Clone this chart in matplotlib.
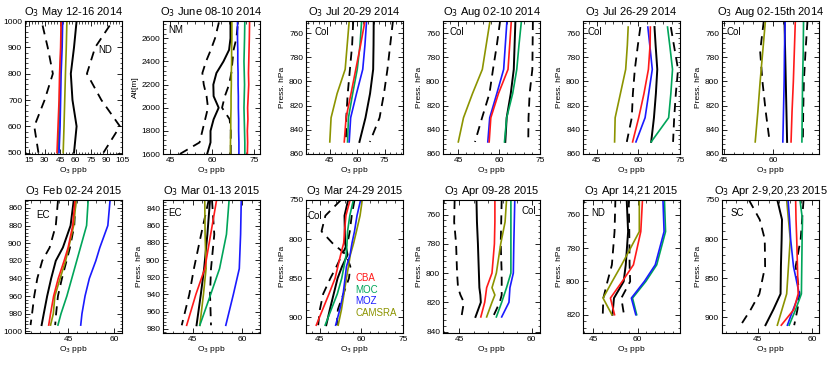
import matplotlib
matplotlib.use('Agg')
import matplotlib.pyplot as plt
from matplotlib.ticker import MultipleLocator, AutoMinorLocator

plt.rcParams['font.family'] = ['Liberation Sans', 'DejaVu Sans']

# colours of the model runs
C_CBA = '#ff1a1a'
C_MOC = '#00a55a'
C_MOZ = '#1a1aff'
C_CAMS = '#8c9400'

# ---- panel 1: May 12-16 2014 (ND), altitude
p1_lev = [500, 600, 700, 800, 900, 1000]
p1_obs = [58.5, 61, 57, 55.4, 58.5, 61]
p1_lo = [24, 20, 30, 38, 33, 27]
p1_hi = [87, 103, 85, 71, 79, 96]
p1_cba = [42, 43, 44, 44.5, 45.5, 46]
p1_moc = [43, 44, 44.5, 45, 46, 46.5]
p1_moz = [44, 45, 45.5, 46, 47, 47.5]
p1_cams = [48, 48.8, 49.5, 50.2, 51, 51.6]

# ---- panel 2: June 08-10 2014 (NM), altitude
p2_lev = [1600, 1700, 1800, 1900, 2000, 2100, 2200, 2300, 2400, 2500, 2600, 2750]
p2_obs = [58.2, 59.4, 59.4, 60.5, 62.3, 60.5, 60.4, 61.5, 64, 66, 66.5, 66.5]
p2_lo = [48.5, 55.5, 56.5, 57.5, 58.5, 58, 57, 56.5, 57.8, 59.5, 61, 62.5]
p2_hi = [66.6, 66.6, 66.6, 66.2, 63.5, 64.5, 66, 66.8, 67.2, 67.6, 68.6, 69.2]
p2_cba = [72.5, 72.6, 72.5, 72.7, 72.6, 72.8, 73, 72.9, 73, 73.1, 73.2, 73.3]
p2_moc = [71.6, 71.6, 71.5, 71.4, 71.3, 71.4, 71.5, 71.4, 71.3, 71.4, 71.5, 71.6]
p2_moz = [69.5, 69.5, 69.4, 69.4, 69.3, 69.3, 69.2, 69.2, 69.1, 69.1, 69, 69]
p2_cams = [66.5, 66.5, 66.6, 66.6, 66.7, 66.7, 66.8, 66.8, 66.9, 66.9, 67.0, 67.0]

# ---- panel 3: Jul 20-29 2014 (Col)
p3_lev = [750, 770, 790, 810, 830, 850]
p3_obs = [69, 68.9, 68.7, 67, 64.5, 61.2]
p3_lo = [57.8, 57.2, 56, 54.8, 54, 53.8]
p3_hi = [79.5, 78, 76.5, 74.6, 72.2, 66.9]
p3_cba = [64.2, 61.8, 59.2, 56.6, 53.9, 52.9]
p3_moc = [62.4, 61.5, 60, 57.5, 55.2, 54.7]
p3_moz = [65.1, 64.2, 63.0, 59.6, 56.4, 55.6]
p3_cams = [55.6, 54.5, 53.4, 49, 45.7, 45]

# ---- panel 4: Aug 02-10 2014 (Col)
p4_lev = [750, 770, 790, 810, 830, 850]
p4_obs = [66, 65.7, 65.4, 64.3, 62.8, 62.3]
p4_lo = [60.4, 59.2, 57.8, 56.5, 53.8, 51.2]
p4_hi = [72.4, 72.3, 72.2, 71.2, 70.8, 70.7]
p4_cba = [64.5, 63.9, 63.3, 59.8, 57.0, 56.4]
p4_moc = [68.2, 67.3, 66.5, 65.0, 62.8, 62.0]
p4_moz = [62.9, 62.3, 61.7, 59.2, 56.6, 55.9]
p4_cams = [56.7, 55.3, 53.9, 50.3, 47.0, 45.1]

# ---- panel 5: Jul 26-29 2014 (Col)
p5_lev = [755, 770, 790, 810, 830, 850]
p5_obs = [65.8, 66.2, 66.8, 66.3, 65.6, 64.6]
p5_lo = [60.7, 59.8, 58.7, 58.0, 57.6, 55.8]
p5_hi = [71.7, 72.8, 74.3, 73.5, 72.9, 72.5]
p5_cba = [64.3, 64.2, 63.6, 62.0, 60.1, 57.9]
p5_moc = [70.5, 71.3, 72.3, 71.7, 70.9, 64.6]
p5_moz = [63.4, 64.1, 65.0, 63.7, 62.4, 59.1]
p5_cams = [56.3, 56.0, 55.4, 53.5, 51.6, 51.4]

# ---- panel 6: Aug 02-15th 2014 (Col)
p6_lev = [750, 775, 800, 825, 850]
p6_obs = [63.5, 63.7, 63.9, 64.1, 64.3]
p6_lo = [57.2, 56.1, 56.8, 57.8, 59.0]
p6_hi = [70.5, 69.9, 69.4, 69.2, 69.1]
p6_cba = [66.8, 66.5, 66.2, 65.8, 65.5]
p6_moc = [69.3, 69.2, 69.0, 68.9, 68.8]
p6_moz = [63.7, 63.5, 63.4, 63.2, 63.0]
p6_cams = [57.7, 56.9, 56.1, 55.4, 54.6]

# ---- panel 7: Feb 02-24 2015 (EC)
p7_lev = [852, 880, 905, 920, 940, 960, 980, 993]
p7_obs = [46.8, 45.8, 43.3, 41.0, 39.5, 38.2, 37.1, 36.4]
p7_lo = [41.7, 41.0, 39.0, 36.6, 35.0, 34.0, 33.3, 32.8]
p7_hi = [47.4, 47.0, 45.6, 44.5, 43.0, 41.7, 41.1, 40.8]
p7_cba = [47.2, 46.5, 45.0, 43.7, 41.8, 40.3, 39.3, 38.7]
p7_moc = [51.5, 51.0, 49.0, 47.8, 46.2, 44.6, 42.7, 41.7]
p7_moz = [58.6, 57.9, 55.3, 54.0, 51.9, 50.5, 49.5, 49.1]
p7_cams = [47.6, 46.8, 45.2, 44.2, 42.4, 40.7, 40.2, 39.3]

# ---- panel 8: Mar 01-13 2015 (EC)
p8_lev = [830, 870, 910, 940, 976]
p8_obs = [50.3, 49.5, 48.5, 47.5, 46.2]
p8_lo = [49.9, 47.6, 45.4, 44.0, 41.7]
p8_hi = [50.9, 51.6, 50.6, 50.3, 50.6]
p8_cba = [52.3, 50.5, 48.7, 46.0, 43.2]
p8_moc = [56.1, 55.3, 53.2, 50.5, 47.2]
p8_moz = [59.8, 59.6, 59.2, 57.4, 55.1]
p8_cams = [48.7, 48.8, 49.1, 48.3, 47.2]

# ---- panel 9: Mar 24-29 2015 (Col)
p9_lev = [750, 770, 790, 805, 820, 835, 850, 870, 890, 910]
p9_obs = [55.2, 53.9, 54.0, 54.1, 55.0, 53.0, 51.4, 50.0, 48.6, 47.3]
p9_lo = [57.5, 56.5, 55.8, 55.0, 53.0, 51.0, 48.8, 46.2, 45.0, 44.4]
p9_hi = [52.6, 47.0, 45.6, 49.5, 54.5, 56.0, 55.5, 53.5, 51.5, 51.1]
p9_cba = [55.9, 54.4, 53.9, 53.6, 52.5, 51.5, 50.5, 48.3, 46.0, 43.7]
p9_moc = [57.1, 55.8, 55.0, 54.8, 54.5, 53.7, 52.9, 51.3, 49.1, 46.9]
p9_moz = [59.7, 58.4, 57.5, 56.6, 55.9, 54.6, 54.1, 53.4, 52.2, 50.7]
p9_cams = [60.3, 59.5, 58.2, 57.2, 56.0, 55.3, 54.6, 53.7, 52.8, 51.6]

# ---- panel 10: Apr 09-28 2015 (Col)
p10_lev = [750, 765, 780, 800, 810, 815, 820, 830]
p10_obs = [48.6, 48.7, 48.9, 49.1, 49.2, 49.4, 49.5, 48.4]
p10_lo = [44.1, 44.0, 44.4, 44.6, 44.8, 45.3, 46.0, 45.5]
p10_hi = [53.8, 53.7, 53.6, 53.8, 53.8, 53.8, 53.4, 52.0]
p10_cba = [52.4, 52.4, 52.3, 51.8, 50.7, 50.5, 50.3, 49.5]
p10_moc = [55.7, 55.7, 55.7, 55.7, 54.8, 54.3, 53.8, 52.7]
p10_moz = [56.5, 56.4, 56.3, 56.2, 55.5, 55.4, 55.3, 53.8]
p10_cams = [54.8, 54.5, 53.6, 52.7, 51.8, 52.4, 51.8, 50.7]

# ---- panel 11: Apr 14,21 2015 (ND)
p11_lev = [750, 770, 790, 800, 810, 820]
p11_obs = [56.3, 56.8, 56.0, 55.3, 52.0, 51.5]
p11_lo = [52.5, 52.2, 51.3, 49.8, 48.4, 48.2]
p11_hi = [57.0, 57.2, 57.3, 57.5, 54.5, 55.4]
p11_cba = [61.7, 61.1, 58.6, 54.8, 50.8, 52.2]
p11_moc = [69.1, 69.5, 66.5, 62.8, 58.3, 59.7]
p11_moz = [68.6, 69.0, 66.0, 62.3, 57.9, 59.4]
p11_cams = [60.6, 60.6, 54.6, 51.4, 48.3, 51.3]

# ---- panel 12: Apr 2-9,20,23 2015 (SC)
p12_lev = [750, 775, 800, 835, 870, 890, 910]
p12_obs = [50.4, 51.7, 51.6, 51.4, 51.3, 49.3, 47.1]
p12_lo = [42.5, 45.5, 46.9, 47.0, 45.4, 43.0, 40.2]
p12_hi = [57.7, 57.3, 56.9, 55.5, 56.6, 56.0, 55.1]
p12_cba = [55.5, 55.6, 55.8, 56.0, 56.2, 55.0, 51.5]
p12_moc = [56.7, 57.4, 57.3, 57.2, 57.1, 55.5, 53.7]
p12_moz = [53.4, 53.8, 54.1, 54.9, 56.5, 54.8, 53.2]
p12_cams = [53.0, 53.5, 54.0, 53.5, 53.0, 51.7, 50.4]

titles = ['May 12-16 2014', 'June 08-10 2014', 'Jul 20-29 2014', 'Aug 02-10 2014',
          'Jul 26-29 2014', 'Aug 02-15th 2014', 'Feb 02-24 2015', 'Mar 01-13 2015',
          'Mar 24-29 2015', 'Apr 09-28 2015', 'Apr 14,21 2015', 'Apr 2-9,20,23 2015']
regions = ['ND', 'NM', 'Col', 'Col', 'Col', 'Col', 'EC', 'EC', 'Col', 'Col', 'ND', 'SC']
ylabels = ['', 'Alt[m]'] + ['Press. hPa'] * 4 + [''] + ['Press. hPa'] * 5
model_names = ['CBA', 'MOC', 'MOZ', 'CAMSRA']

panels = [
    (p1_lev, p1_obs, p1_lo, p1_hi, p1_cba, p1_moc, p1_moz, p1_cams),
    (p2_lev, p2_obs, p2_lo, p2_hi, p2_cba, p2_moc, p2_moz, p2_cams),
    (p3_lev, p3_obs, p3_lo, p3_hi, p3_cba, p3_moc, p3_moz, p3_cams),
    (p4_lev, p4_obs, p4_lo, p4_hi, p4_cba, p4_moc, p4_moz, p4_cams),
    (p5_lev, p5_obs, p5_lo, p5_hi, p5_cba, p5_moc, p5_moz, p5_cams),
    (p6_lev, p6_obs, p6_lo, p6_hi, p6_cba, p6_moc, p6_moz, p6_cams),
    (p7_lev, p7_obs, p7_lo, p7_hi, p7_cba, p7_moc, p7_moz, p7_cams),
    (p8_lev, p8_obs, p8_lo, p8_hi, p8_cba, p8_moc, p8_moz, p8_cams),
    (p9_lev, p9_obs, p9_lo, p9_hi, p9_cba, p9_moc, p9_moz, p9_cams),
    (p10_lev, p10_obs, p10_lo, p10_hi, p10_cba, p10_moc, p10_moz, p10_cams),
    (p11_lev, p11_obs, p11_lo, p11_hi, p11_cba, p11_moc, p11_moz, p11_cams),
    (p12_lev, p12_obs, p12_lo, p12_hi, p12_cba, p12_moc, p12_moz, p12_cams),
]

# axis settings: xlim, ylim, x ticks, y tick step
xlims = [(11, 105), (42.5, 77), (32, 85), (39.5, 75), (40, 75), (44.5, 74),
         (31, 62.5), (36, 65.5), (40, 75), (41.7, 61.7), (41.5, 74.4), (35, 62)]
ylims = [(495, 1000), (1600, 2750), (860, 750), (860, 750), (860, 750), (860, 750),
         (1002, 851), (985, 830), (920, 750), (841, 750), (831, 751), (920, 750)]
xticks = [[15, 30, 45, 60, 75, 90, 105], [45, 60, 75], [45, 60, 75], [45, 60, 75],
          [45, 60, 75], [45, 60], [45, 60], [45, 60], [45, 60, 75], [45, 60], [45, 60], [45, 60]]
ysteps = [100, 200, 20, 20, 20, 20, 20, 20, 50, 20, 20, 50]
# region-label position (axes fraction) and alignment
lab_pos = [(0.76, 0.78, 'left'), (0.05, 0.93, 'left'), (0.09, 0.92, 'left'), (0.07, 0.92, 'left'),
           (0.05, 0.92, 'left'), (0.05, 0.92, 'left'), (0.12, 0.89, 'left'), (0.05, 0.90, 'left'),
           (0.02, 0.88, 'left'), (0.96, 0.92, 'right'), (0.09, 0.90, 'left'), (0.09, 0.90, 'left')]

W, H = 832, 365
fig = plt.figure(figsize=(W / 100, H / 100), dpi=100)
lefts = [25, 163, 306, 443, 583, 722]
tops = [21, 200]
aw, ah = 97, 133

dash = (0, (5, 3.5))
for i, (lev, obs, lo, hi, cba, moc, moz, cams) in enumerate(panels):
    row, col = divmod(i, 6)
    ax = fig.add_axes([lefts[col] / W, 1 - (tops[row] + ah) / H, aw / W, ah / H])
    ax.plot(lo, lev, color='k', lw=1.3, ls=dash)
    ax.plot(hi, lev, color='k', lw=1.3, ls=dash)
    ax.plot(obs, lev, color='k', lw=1.4)
    ax.plot(cams, lev, color=C_CAMS, lw=1.2)
    ax.plot(moc, lev, color=C_MOC, lw=1.2)
    ax.plot(moz, lev, color=C_MOZ, lw=1.2)
    ax.plot(cba, lev, color=C_CBA, lw=1.2)

    ax.set_xlim(*xlims[i])
    ax.set_ylim(*ylims[i])
    ax.set_xticks(xticks[i])
    ax.yaxis.set_major_locator(MultipleLocator(ysteps[i]))
    ax.xaxis.set_minor_locator(AutoMinorLocator(5))
    ax.yaxis.set_minor_locator(AutoMinorLocator(5))
    ax.tick_params(which='both', direction='in', top=True, right=True, labelsize=6, pad=2)
    ax.tick_params(which='major', length=3.5, width=0.6)
    ax.tick_params(which='minor', length=1.8, width=0.5)
    for s in ax.spines.values():
        s.set_linewidth(0.8)

    ax.set_title('O$_3$ ' + titles[i], fontsize=8, pad=4.5)
    ax.set_xlabel('O$_3$ ppb', fontsize=6, labelpad=1)
    if ylabels[i]:
        ax.set_ylabel(ylabels[i], fontsize=6, labelpad=2)
    lx, ly, ha = lab_pos[i]
    ax.text(lx, ly, regions[i], transform=ax.transAxes, fontsize=7, ha=ha, va='center')

    if i == 8:
        for name, c, y in zip(model_names, [C_CBA, C_MOC, C_MOZ, C_CAMS], [0.41, 0.32, 0.24, 0.15]):
            ax.text(0.51, y, name, transform=ax.transAxes, color=c, fontsize=7, va='center')

fig.savefig('out.png', dpi=100)
